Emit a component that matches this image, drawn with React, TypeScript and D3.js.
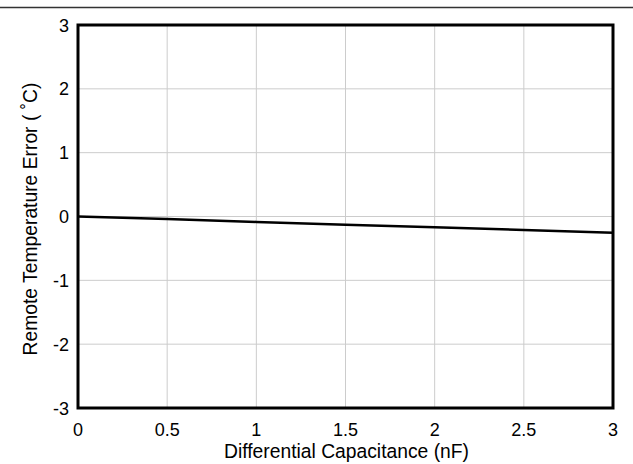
import React from "react";
import * as d3 from "d3";

const xValues = [0, 0.5, 1, 1.5, 2, 2.5, 3];
const errorValues = [0, -0.04, -0.085, -0.13, -0.17, -0.21, -0.255];
const xTicks = [0, 0.5, 1, 1.5, 2, 2.5, 3];
const yTicks = [-3, -2, -1, 0, 1, 2, 3];
const xTitle = "Differential Capacitance (nF)";
const yTitle = "Remote Temperature Error ( \u02DAC)";

const W = 633;
const H = 464;
const M = { left: 78, right: 20, top: 25, bottom: 56 };

export default function App() {
  const x = d3.scaleLinear().domain([0, 3]).range([M.left, W - M.right]);
  const y = d3.scaleLinear().domain([-3, 3]).range([H - M.bottom, M.top]);
  const line = d3
    .line<number>()
    .x((_, i) => x(xValues[i]))
    .y((d) => y(d));
  const font = "'Liberation Sans', Arial, sans-serif";
  return (
    <svg
      width={W}
      height={H}
      style={{ position: "absolute", left: 0, top: 0, background: "#fff" }}
      fontFamily={font}
    >
      <line x1={0} x2={W} y1={7.5} y2={7.5} stroke="#333" strokeWidth={1.5} />
      {xTicks.map((t) => (
        <line key={"gx" + t} x1={x(t)} x2={x(t)} y1={y(3)} y2={y(-3)} stroke="#cccccc" strokeWidth={1} />
      ))}
      {yTicks.map((t) => (
        <line key={"gy" + t} x1={x(0)} x2={x(3)} y1={y(t)} y2={y(t)} stroke="#cccccc" strokeWidth={1} />
      ))}
      <path d={line(errorValues) || ""} fill="none" stroke="#000" strokeWidth={2.5} />
      <rect
        x={x(0)}
        y={y(3)}
        width={x(3) - x(0)}
        height={y(-3) - y(3)}
        fill="none"
        stroke="#000"
        strokeWidth={3}
      />
      {xTicks.map((t) => (
        <text key={"tx" + t} x={x(t)} y={y(-3) + 28} textAnchor="middle" fontSize={18} fill="#000">
          {String(t)}
        </text>
      ))}
      {yTicks.map((t) => (
        <text key={"ty" + t} x={x(0) - 9} y={y(t) + 6.5} textAnchor="end" fontSize={18} fill="#000">
          {String(t)}
        </text>
      ))}
      <text x={(x(0) + x(3)) / 2 + 1} y={458} textAnchor="middle" fontSize={19.3} fill="#000">
        {xTitle}
      </text>
      <text
        transform={`translate(37,219) rotate(-90)`}
        textAnchor="middle"
        fontSize={19.3}
        fill="#000"
      >
        {yTitle}
      </text>
    </svg>
  );
}
